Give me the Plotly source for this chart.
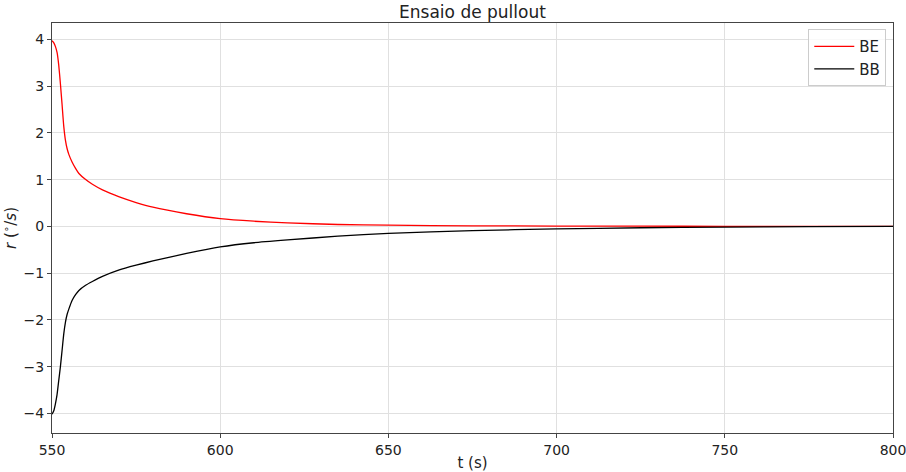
import plotly.graph_objects as go

# Time samples (s)
t = [550, 550.5, 551, 551.5, 552, 552.5, 553, 553.5, 554, 554.5, 555, 556, 557,
     558, 560, 562, 565, 570, 575, 580, 590, 600, 610, 620, 635, 650, 675, 700,
     725, 750, 775, 800]

# Yaw rate for each configuration (deg/s)
r_be = [3.97, 3.93, 3.85, 3.72, 3.45, 3.05, 2.6, 2.14, 1.84, 1.66, 1.54, 1.37,
        1.24, 1.13, 1.0, 0.9, 0.78, 0.63, 0.51, 0.41, 0.27, 0.165, 0.11, 0.075,
        0.04, 0.025, 0.012, 0.006, 0.003, 0.001, 0.0, 0.0]
r_bb = [-4.02, -3.95, -3.8, -3.6, -3.3, -3.0, -2.65, -2.3, -2.05, -1.88, -1.77,
        -1.58, -1.46, -1.37, -1.26, -1.18, -1.07, -0.93, -0.83, -0.74, -0.58,
        -0.44, -0.35, -0.29, -0.21, -0.15, -0.09, -0.055, -0.03, -0.015, -0.007,
        -0.002]

x_ticks = [550, 600, 650, 700, 750, 800]
y_ticks = [-4, -3, -2, -1, 0, 1, 2, 3, 4]
y_tick_text = ["\u22124", "\u22123", "\u22122", "\u22121", "0", "1", "2", "3", "4"]

font_family = "DejaVu Sans"

fig = go.Figure()
fig.add_trace(go.Scatter(x=t, y=r_be, mode="lines", name="BE",
                         line=dict(color="#ff0000", width=1.3, shape="spline", smoothing=0.5)))
fig.add_trace(go.Scatter(x=t, y=r_bb, mode="lines", name="BB",
                         line=dict(color="#000000", width=1.3, shape="spline", smoothing=0.5)))

axis_common = dict(
    showline=True, linecolor="#444444", linewidth=1, mirror=True,
    showgrid=True, gridcolor="#e0e0e0", gridwidth=1,
    ticks="outside", ticklen=4, tickcolor="#444444",
    zeroline=False, automargin=False, ticklabeloverflow="allow",
    tickfont=dict(family=font_family, size=14, color="#222222"),
)

fig.update_layout(
    width=906, height=472,
    margin=dict(l=52, r=13, t=23, b=39),
    paper_bgcolor="white", plot_bgcolor="white",
    title=dict(text="Ensaio de pullout", x=0.5, xref="paper", y=0.975, yref="container",
               yanchor="middle",
               font=dict(family=font_family, size=17, color="#222222")),
    xaxis=dict(range=[550, 800], tickvals=x_ticks,
               title=dict(text="t (s)", standoff=2,
                          font=dict(family=font_family, size=15, color="#222222")),
               **axis_common),
    yaxis=dict(range=[-4.42, 4.35], tickvals=y_ticks, ticktext=y_tick_text,
               title=dict(text="<i>r</i> (<sup>\u2218</sup>/<i>s</i>)", standoff=6,
                          font=dict(family=font_family, size=15, color="#222222")),
               **axis_common),
    legend=dict(x=0.992, y=0.985, xanchor="right", yanchor="top",
                bgcolor="rgba(255,255,255,0.8)", bordercolor="#cccccc", borderwidth=1,
                font=dict(family=font_family, size=15, color="#222222"),
                itemwidth=40),
    showlegend=True,
)

fig.write_html("out.html")
